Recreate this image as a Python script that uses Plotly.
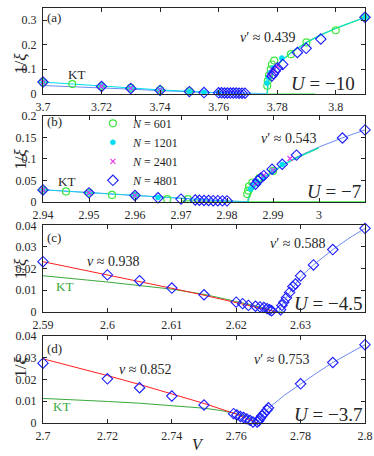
import plotly.graph_objects as go

# ---------------- (a) U = -10 ----------------
a_v601 = [3.70, 3.71, 3.72, 3.73, 3.74, 3.75, 3.7766, 3.7768, 3.7772, 3.7778, 3.7782, 3.7790, 3.7847, 3.79, 3.80, 3.81]
a_y601 = [0.047, 0.039, 0.030, 0.023, 0.015, 0.009, 0.032, 0.052, 0.075, 0.099, 0.119, 0.135, 0.161, 0.209, 0.259, 0.312]
a_v1201 = [3.70, 3.72, 3.73, 3.74, 3.75, 3.755, 3.760, 3.7765, 3.777, 3.7776, 3.7786, 3.7816, 3.81]
a_y1201 = [0.047, 0.031, 0.022, 0.014, 0.008, 0.005, 0.003, 0.043, 0.066, 0.085, 0.105, 0.145, 0.312]
a_v2401 = [3.70, 3.72, 3.73, 3.74, 3.7775, 3.7785, 3.780]
a_y2401 = [0.047, 0.030, 0.022, 0.014, 0.075, 0.095, 0.112]
a_v4801 = [3.70, 3.72, 3.73, 3.74, 3.75, 3.755, 3.760, 3.761, 3.762, 3.763, 3.764, 3.765, 3.766,
           3.767, 3.768, 3.769, 3.7782, 3.7787, 3.7793, 3.7801, 3.7819, 3.7869, 3.7899, 3.7949, 3.81]
a_y4801 = [0.047, 0.029, 0.021, 0.013, 0.008, 0.004, 0.003, 0.003, 0.0025, 0.0025, 0.002, 0.002, 0.002,
           0.0015, 0.0015, 0.0015, 0.072, 0.081, 0.092, 0.105, 0.119, 0.168, 0.185, 0.223, 0.312]
a_kt_v = [3.70, 3.71, 3.72, 3.73, 3.74, 3.75, 3.76, 3.77, 3.7766]
a_kt_y = [0.033, 0.029, 0.024, 0.018, 0.012, 0.007, 0.003, 0.001, 0.0]
a_left_v = [3.70, 3.71, 3.72, 3.73, 3.74, 3.75, 3.755, 3.76, 3.7766]
a_left_y = [0.047, 0.040, 0.031, 0.023, 0.015, 0.009, 0.006, 0.003, 0.0]
a_fit_v = [3.7766, 3.7767, 3.7768, 3.7771, 3.7776, 3.7786, 3.780, 3.7816, 3.785, 3.79, 3.795, 3.80, 3.805, 3.81]
a_fit_y = [0.0, 0.024, 0.033, 0.049, 0.067, 0.090, 0.114, 0.135, 0.170, 0.209, 0.240, 0.267, 0.290, 0.312]
a_zero_v = [3.7766, 3.793]
a_zero_y = [0.0, 0.0]

# ---------------- (b) U = -7 ----------------
b_v601 = [2.94, 2.945, 2.95, 2.955, 2.96, 2.967, 2.9715, 2.9844, 2.9846, 2.9848, 2.9855, 2.987, 2.99]
b_y601 = [0.028, 0.024, 0.021, 0.016, 0.014, 0.006, 0.006, 0.018, 0.026, 0.036, 0.045, 0.055, 0.072]
b_v1201 = [2.94, 2.95, 2.96, 2.965, 2.9851, 2.9858, 2.9865, 2.988, 2.990, 2.992]
b_y1201 = [0.028, 0.021, 0.015, 0.010, 0.030, 0.040, 0.048, 0.058, 0.072, 0.087]
b_v2401 = [2.94, 2.95, 2.96, 2.9862, 2.988, 2.990, 2.9937]
b_y2401 = [0.028, 0.021, 0.015, 0.042, 0.062, 0.074, 0.101]
b_v4801 = [2.94, 2.95, 2.96, 2.965, 2.97, 2.9731, 2.974, 2.975, 2.976, 2.977, 2.978, 2.979, 2.980,
           2.9862, 2.9867, 2.9873, 2.988, 2.9898, 2.992, 2.9951, 3.0051, 3.01]
b_y4801 = [0.0276, 0.0207, 0.0146, 0.0092, 0.0061, 0.004, 0.0035, 0.003, 0.003, 0.0025, 0.0025, 0.002, 0.002,
           0.041, 0.049, 0.055, 0.061, 0.076, 0.0875, 0.109, 0.149, 0.168]
b_left_v = [2.94, 2.95, 2.96, 2.97, 2.975, 2.98, 2.9846]
b_left_y = [0.028, 0.021, 0.0145, 0.0075, 0.004, 0.0015, 0.0]
b_fit_v = [2.9846, 2.9846, 2.9848, 2.985, 2.986, 2.988, 2.99, 2.9925, 2.995, 3.0]
b_fit_y = [0.0, 0.005, 0.012, 0.017, 0.034, 0.056, 0.071, 0.088, 0.102, 0.126]
b_blue_v = [2.9846, 2.9848, 2.985, 2.986, 2.988, 2.99, 2.9925, 2.995, 3.0, 3.005, 3.01]
b_blue_y = [0.0, 0.012, 0.017, 0.034, 0.056, 0.071, 0.088, 0.104, 0.128, 0.149, 0.168]
b_zero_v = [2.97, 2.9846, 3.01]
b_zero_y = [0.002, 0.0005, 0.0005]

# ---------------- (c) U = -4.5 ----------------
c_v4801 = [2.59, 2.60, 2.605, 2.61, 2.615, 2.62, 2.621, 2.6219, 2.623, 2.6237, 2.6243, 2.6248, 2.6252, 2.6255,
           2.6269, 2.6271, 2.6274, 2.6278, 2.6283, 2.6288, 2.6292, 2.630, 2.632, 2.635, 2.64]
c_y4801 = [0.0232, 0.0171, 0.0144, 0.011, 0.0079, 0.0045, 0.0038, 0.003, 0.0026, 0.0023, 0.002, 0.0015, 0.001, 0.0005,
           0.001, 0.003, 0.0045, 0.0065, 0.009, 0.0117, 0.0129, 0.0167, 0.0217, 0.0288, 0.0386]
c_red_v = [2.59, 2.595, 2.60, 2.605, 2.61, 2.615, 2.62, 2.623, 2.625, 2.6262]
c_red_y = [0.0232, 0.0202, 0.0171, 0.0140, 0.0109, 0.0077, 0.0044, 0.0024, 0.0010, 0.0]
c_kt_v = [2.59, 2.60, 2.61, 2.615, 2.62, 2.624, 2.6262, 2.6276]
c_kt_y = [0.0167, 0.0138, 0.0105, 0.0081, 0.0048, 0.0020, 0.0, 0.0]
c_blue_v = [2.6266, 2.6269, 2.6274, 2.6283, 2.6292, 2.630, 2.632, 2.635, 2.6375, 2.64]
c_blue_y = [0.0, 0.002, 0.0048, 0.009, 0.0129, 0.0162, 0.0217, 0.0288, 0.034, 0.0386]

# ---------------- (d) U = -3.7 ----------------
d_v4801 = [2.70, 2.72, 2.73, 2.74, 2.75, 2.7592, 2.7602, 2.7613, 2.7623, 2.7633, 2.7643, 2.7652, 2.7665,
           2.767, 2.7675, 2.768, 2.7687, 2.7696, 2.770, 2.780, 2.790, 2.80]
d_y4801 = [0.0275, 0.0203, 0.0162, 0.0124, 0.0083, 0.0043, 0.0037, 0.003, 0.0025, 0.0019, 0.0012, 0.0005, 0.0005,
           0.001, 0.0023, 0.0033, 0.0045, 0.006, 0.007, 0.018, 0.0278, 0.036]
d_red_v = [2.70, 2.71, 2.72, 2.73, 2.74, 2.75, 2.76, 2.764, 2.7665]
d_red_y = [0.0295, 0.0257, 0.0218, 0.0177, 0.0135, 0.0090, 0.0041, 0.0018, 0.0]
d_kt_v = [2.70, 2.71, 2.72, 2.73, 2.74, 2.75, 2.755, 2.76, 2.763, 2.7665]
d_kt_y = [0.0113, 0.0107, 0.0099, 0.0091, 0.0081, 0.0068, 0.0058, 0.0043, 0.0030, 0.0]
d_blue_v = [2.7665, 2.767, 2.768, 2.769, 2.770, 2.775, 2.780, 2.785, 2.790, 2.795, 2.80]
d_blue_y = [0.0, 0.0012, 0.0033, 0.005, 0.0068, 0.0128, 0.018, 0.023, 0.0278, 0.032, 0.036]

# ejes
x_ranges = [[3.7, 3.81], [2.94, 3.01], [2.59, 2.64], [2.7, 2.8]]
x_ticks = [[3.7, 3.72, 3.74, 3.76, 3.78, 3.8],
           [2.94, 2.95, 2.96, 2.97, 2.98, 2.99, 3.0, 3.01],
           [2.59, 2.6, 2.61, 2.62, 2.63, 2.64],
           [2.7, 2.72, 2.74, 2.76, 2.78, 2.8]]
x_ticktext = [["3.7", "3.72", "3.74", "3.76", "3.78", "3.8"],
              ["2.94", "2.95", "2.96", "2.97", "2.98", "2.99", "3", "3.01"],
              ["2.59", "2.6", "2.61", "2.62", "2.63", "2.64"],
              ["2.7", "2.72", "2.74", "2.76", "2.78", "2.8"]]
y_ranges = [[0, 0.35], [0, 0.2], [0, 0.04], [0, 0.04]]
y_ticks = [[0, 0.1, 0.2, 0.3], [0, 0.05, 0.1, 0.15, 0.2], [0, 0.01, 0.02, 0.03, 0.04], [0, 0.01, 0.02, 0.03, 0.04]]
y_ticktext = [["0", "0.1", "0.2", "0.3"], ["0", "0.05", "0.1", "0.15", "0.2"],
              ["0", "0.01", "0.02", "0.03", "0.04"], ["0", "0.01", "0.02", "0.03", "0.04"]]
y_domains = [[0.7938, 1.0], [0.5332, 0.7393], [0.2678, 0.4763], [0.0, 0.2097]]

SERIF = "Liberation Serif"
INK = "#262626"
BLUE = "#1a1aff"
FIT_BLUE = "#6a8cf0"
GREEN_PT = "#3ee83e"
CYAN = "#00dcf0"
MAGENTA = "#e63ce6"
RED = "#ff1e1e"
KT_GREEN = "#3aa83a"


def refs(i):
    s = "" if i == 1 else str(i)
    return "x" + s, "y" + s


def add_line(fig, i, x, y, color, width=1.0):
    xr, yr = refs(i)
    fig.add_trace(go.Scatter(x=x, y=y, mode="lines", line=dict(color=color, width=width),
                             xaxis=xr, yaxis=yr, showlegend=False, hoverinfo="skip"))


def add_points(fig, i, x, y, name, marker, legend=False):
    xr, yr = refs(i)
    fig.add_trace(go.Scatter(x=x, y=y, mode="markers", marker=marker, name=name, cliponaxis=False,
                             xaxis=xr, yaxis=yr, showlegend=legend))


m601 = dict(symbol="circle-open", size=7, color=GREEN_PT, line=dict(width=1.2, color=GREEN_PT))
m1201 = dict(symbol="circle", size=5, color=CYAN, line=dict(width=0.6, color=CYAN))
m2401 = dict(symbol="x-thin-open", size=5, color=MAGENTA, line=dict(width=1.2, color=MAGENTA))
m4801 = dict(symbol="diamond-open", size=8, color=BLUE, line=dict(width=1.1, color=BLUE))

fig = go.Figure()

# (a)
add_line(fig, 1, a_kt_v, a_kt_y, FIT_BLUE)
add_line(fig, 1, a_left_v, a_left_y, CYAN)
add_line(fig, 1, a_zero_v, a_zero_y, GREEN_PT, 1.2)
add_line(fig, 1, a_fit_v, a_fit_y, GREEN_PT, 1.4)
add_line(fig, 1, a_fit_v, a_fit_y, CYAN, 1.0)
add_points(fig, 1, a_v601, a_y601, "<i>N</i> = 601", m601, True)
add_points(fig, 1, a_v1201, a_y1201, "<i>N</i> = 1201", m1201, True)
add_points(fig, 1, a_v2401, a_y2401, "<i>N</i> = 2401", m2401, True)
add_points(fig, 1, a_v4801, a_y4801, "<i>N</i> = 4801", m4801, True)

# (b)
add_line(fig, 2, b_zero_v, b_zero_y, GREEN_PT, 1.2)
add_line(fig, 2, b_left_v, b_left_y, FIT_BLUE)
add_line(fig, 2, b_left_v, b_left_y, CYAN, 0.8)
add_line(fig, 2, b_blue_v, b_blue_y, FIT_BLUE)
add_line(fig, 2, b_fit_v, b_fit_y, GREEN_PT, 1.4)
add_line(fig, 2, b_fit_v, b_fit_y, CYAN, 1.0)
add_points(fig, 2, b_v601, b_y601, "<i>N</i> = 601", m601)
add_points(fig, 2, b_v1201, b_y1201, "<i>N</i> = 1201", m1201)
add_points(fig, 2, b_v2401, b_y2401, "<i>N</i> = 2401", m2401)
add_points(fig, 2, b_v4801, b_y4801, "<i>N</i> = 4801", m4801)

# (c)
add_line(fig, 3, c_kt_v, c_kt_y, KT_GREEN)
add_line(fig, 3, c_red_v, c_red_y, RED)
add_line(fig, 3, c_blue_v, c_blue_y, FIT_BLUE)
add_points(fig, 3, c_v4801, c_y4801, "<i>N</i> = 4801", m4801)

# (d)
add_line(fig, 4, d_kt_v, d_kt_y, KT_GREEN)
add_line(fig, 4, d_red_v, d_red_y, RED)
add_line(fig, 4, d_blue_v, d_blue_y, FIT_BLUE)
add_points(fig, 4, d_v4801, d_y4801, "<i>N</i> = 4801", m4801)

layout = dict(
    width=374, height=456,
    margin=dict(l=43, r=9, t=1, b=33),
    paper_bgcolor="white", plot_bgcolor="white",
    font=dict(family=SERIF, size=12, color=INK),
    legend=dict(x=0.155, y=0.757, xanchor="left", yanchor="top", bgcolor="rgba(0,0,0,0)",
                font=dict(family=SERIF, size=12, color=INK), itemwidth=30, tracegroupgap=0),
)

for i in range(4):
    xr, yr = refs(i + 1)
    xkey = "xaxis" if i == 0 else "xaxis%d" % (i + 1)
    ykey = "yaxis" if i == 0 else "yaxis%d" % (i + 1)
    common = dict(showline=True, linecolor=INK, linewidth=1, mirror="ticks", ticks="inside",
                  ticklen=4, tickcolor=INK, showgrid=False, zeroline=False,
                  tickfont=dict(family=SERIF, size=12, color=INK))
    layout[xkey] = dict(common, range=x_ranges[i], tickvals=x_ticks[i], ticktext=x_ticktext[i],
                        anchor=yr, domain=[0, 1], ticklabelstandoff=2)
    layout[ykey] = dict(common, range=y_ranges[i], tickvals=y_ticks[i], ticktext=y_ticktext[i],
                        anchor=xr, domain=y_domains[i], ticklabelstandoff=3)

fig.update_layout(**layout)

# textos
notes = [
    (1, 3.7007, 0.312, "(a)", 13, INK, "left"),
    (1, 3.7115, 0.076, "KT", 13, INK, "center"),
    (1, 3.7767, 0.229, "<i>ν</i>′ ≈ 0.439", 14, INK, "center"),
    (1, 3.7957, 0.043, "<i>U</i> = −10", 19, INK, "center"),
    (2, 2.9404, 0.187, "(b)", 13, INK, "left"),
    (2, 2.9451, 0.048, "KT", 13, INK, "center"),
    (2, 2.9933, 0.149, "<i>ν</i>′ ≈ 0.543", 14, INK, "center"),
    (2, 3.0033, 0.0247, "<i>U</i> = −7", 19, INK, "center"),
    (3, 2.5903, 0.0344, "(c)", 13, INK, "left"),
    (3, 2.6008, 0.0232, "<i>ν</i> ≈ 0.938", 14, INK, "center"),
    (3, 2.5933, 0.0117, "KT", 13, KT_GREEN, "center"),
    (3, 2.6295, 0.0318, "<i>ν</i>′ ≈ 0.588", 14, INK, "center"),
    (3, 2.6342, 0.0038, "<i>U</i> = −4.5", 19, INK, "center"),
    (4, 2.7006, 0.0342, "(d)", 13, INK, "left"),
    (4, 2.7317, 0.0248, "<i>ν</i> ≈ 0.852", 14, INK, "center"),
    (4, 2.7056, 0.0075, "KT", 13, KT_GREEN, "center"),
    (4, 2.774, 0.029, "<i>ν</i>′ ≈ 0.753", 14, INK, "center"),
    (4, 2.7886, 0.0037, "<i>U</i> = −3.7", 19, INK, "center"),
]
for i, x, y, txt, size, color, anchor in notes:
    xr, yr = refs(i)
    fig.add_annotation(x=x, y=y, xref=xr, yref=yr, text=txt, showarrow=False, xanchor=anchor,
                       yanchor="middle", font=dict(family=SERIF, size=size, color=color))

for d in y_domains:
    fig.add_annotation(x=-0.105, y=(d[0] + d[1]) / 2, xref="paper", yref="paper", text="1/<i>ξ</i>",
                       textangle=-90, showarrow=False, font=dict(family=SERIF, size=17, color=INK))

fig.add_annotation(x=0.481, y=-0.0755, xref="paper", yref="paper", text="<i>V</i>", showarrow=False,
                   yanchor="bottom", borderpad=0, font=dict(family=SERIF, size=16, color=INK))

# sin margen del body para que la figura ocupe la ventana completa
fig.write_html("out.html", config={"displayModeBar": False},
               post_script="document.body.style.margin='0px';")
